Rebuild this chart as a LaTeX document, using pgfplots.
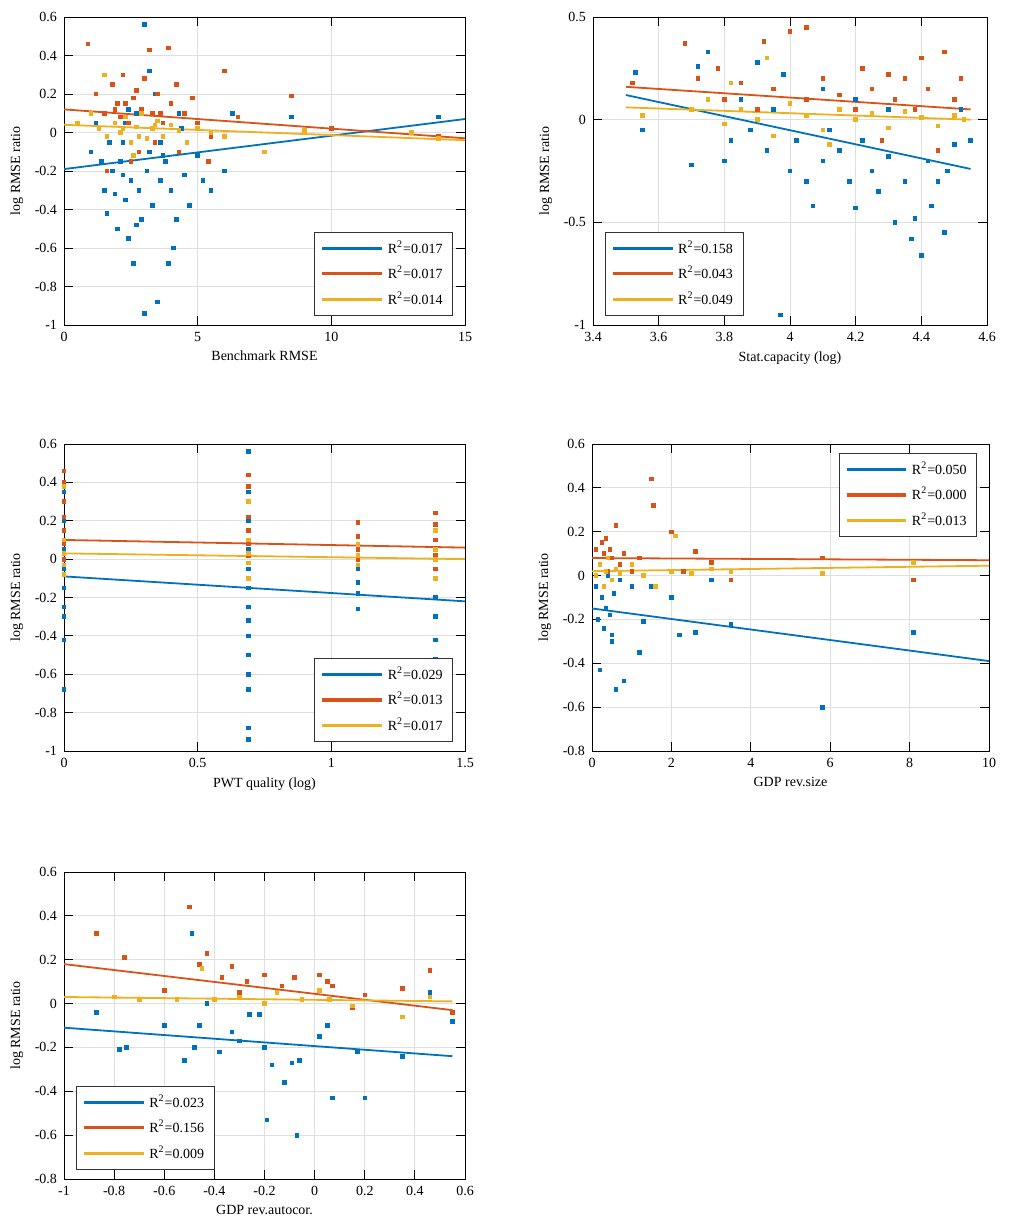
\documentclass[border=0pt]{standalone}
\usepackage{pgfplots}
\pgfplotsset{compat=1.18}
\usepackage{fontspec}
\setmainfont{Liberation Serif}
\definecolor{cb}{RGB}{0,114,189}
\definecolor{co}{RGB}{217,83,25}
\definecolor{cy}{RGB}{237,177,32}
\pgfplotsset{
  every axis/.append style={
    scale only axis, anchor=north west, grid=major, grid style={gray!25},
    tick align=inside, tick style={black, thin}, axis line style={thin},
    font=\fontsize{7}{8}\selectfont,
    /pgf/number format/assume math mode=true,
    ylabel={log RMSE ratio}, ylabel style={yshift=-1pt},
    xlabel style={yshift=2pt},
    legend style={font=\fontsize{7}{8}\selectfont, draw=black!80, thin, row sep=1pt},
    legend cell align=left,
    legend image code/.code={\draw[#1, line width=1.6pt] (0cm,0cm) -- (1.05cm,0cm);},
  },
  pb/.style={only marks, mark=square*, mark size=0.9pt, color=cb, forget plot},
  po/.style={only marks, mark=square*, mark size=0.9pt, color=co, forget plot},
  py/.style={only marks, mark=square*, mark size=0.9pt, color=cy, forget plot},
  lb/.style={color=cb, line width=0.9pt},
  lo/.style={color=co, line width=0.9pt},
  ly/.style={color=cy, line width=0.9pt},
}
\begin{document}
\begin{tikzpicture}
\path (0pt,0pt) rectangle (504pt,-612.5pt);
% Panel 1
\begin{axis}[at={(32pt,-8.5pt)}, width=200.5pt, height=154pt,
  xmin=0, xmax=15, ymin=-1, ymax=0.6, xtick={0,5,10,15}, ytick={-1,-0.8,...,0.6},
  xlabel={Benchmark RMSE}, legend pos=south east]
\addplot[pb] coordinates {(1,-0.1)(1.2,0.05)(1.5,-0.3)(1.6,-0.42)(1.8,-0.2)(2,-0.5)(2.1,-0.15)(2.2,-0.05)(2.3,-0.35)(2.4,-0.55)(2.5,-0.25)(2.6,-0.68)(2.7,0.1)(2.8,-0.3)(2.9,-0.45)(3,-0.94)(3,0.56)(3.1,-0.2)(3.2,-0.1)(3.3,-0.38)(3.4,0.2)(3.5,-0.88)(3.6,-0.25)(3.8,-0.15)(3.9,-0.68)(4,-0.3)(4.1,-0.6)(4.2,-0.45)(4.3,0.1)(4.5,-0.22)(4.7,-0.38)(5,-0.12)(5.2,-0.25)(5.5,-0.3)(6,-0.2)(6.3,0.1)(8.5,0.08)(14,0.08)(2.4,0.12)(1.9,-0.32)(2.7,-0.48)(3.6,-0.05)(4.4,0.02)(2.2,-0.22)(3.2,0.32)(1.4,-0.15)(2.8,-0.02)(3.7,-0.12)(2.3,0.05)(1.7,-0.05)};
\addplot[po] coordinates {(0.9,0.46)(1.2,0.2)(1.5,0.1)(1.8,0.25)(2,0.15)(2.2,0.3)(2.4,0.05)(2.6,0.18)(2.8,-0.1)(3,0.28)(3.2,0.43)(3.3,0.1)(3.5,0.2)(3.7,0.05)(3.9,0.44)(4,0.15)(4.2,0.25)(4.5,0.1)(4.8,0.18)(5,0.05)(5.5,-0.02)(6,0.32)(6.5,0.08)(8.5,0.19)(10,0.02)(14,-0.02)(2.1,0.08)(2.9,0.12)(3.4,-0.05)(1.6,-0.2)(2.5,-0.15)(4.3,-0.1)(5.4,-0.15)(1.9,0.12)(2.7,0.22)(3.6,0.1)(2.3,0.15)};
\addplot[py] coordinates {(0.5,0.05)(1,0.1)(1.3,0.02)(1.6,-0.02)(1.9,0.05)(2.1,0)(2.3,0.08)(2.5,-0.05)(2.7,0.03)(2.9,0.1)(3.1,-0.03)(3.3,0.02)(3.5,0.06)(3.7,-0.02)(4,0.04)(4.3,0.01)(4.6,-0.05)(5,0.02)(5.5,0)(6,-0.02)(7.5,-0.1)(9,0.01)(13,0)(14,-0.03)(1.5,0.3)(2.6,-0.12)(2.2,0.02)(2.8,-0.02)(3.4,0.04)};
\addplot[lb] coordinates {(0,-0.19)(15,0.07)};
\addplot[lo] coordinates {(0,0.12)(15,-0.03)};
\addplot[ly] coordinates {(0,0.04)(15,-0.04)};
\legend{R\textsuperscript{2}=0.017,R\textsuperscript{2}=0.017,R\textsuperscript{2}=0.014}
\end{axis}
% Panel 2
\begin{axis}[at={(296.5pt,-8.5pt)}, width=197pt, height=154pt,
  xmin=3.4, xmax=4.6, ymin=-1, ymax=0.5, xtick={3.4,3.6,...,4.61}, ytick={-1,-0.5,0,0.5},
  xlabel={Stat.capacity (log)}, legend pos=south west]
\addplot[pb] coordinates {(3.53,0.23)(3.55,-0.05)(3.7,-0.22)(3.72,0.26)(3.75,0.33)(3.8,-0.2)(3.82,-0.1)(3.85,0.1)(3.88,-0.05)(3.9,0.28)(3.93,-0.15)(3.95,0.05)(3.97,-0.95)(3.98,0.22)(4,-0.25)(4.02,-0.1)(4.05,-0.3)(4.07,-0.42)(4.1,-0.2)(4.12,-0.05)(4.15,-0.15)(4.18,-0.3)(4.2,-0.43)(4.22,-0.1)(4.25,-0.25)(4.27,-0.35)(4.3,-0.18)(4.32,-0.5)(4.35,-0.3)(4.37,-0.58)(4.38,-0.48)(4.4,-0.66)(4.42,-0.2)(4.43,-0.42)(4.45,-0.3)(4.47,-0.55)(4.48,-0.25)(4.5,-0.12)(4.52,0.05)(4.55,-0.1)(4.2,0.1)(4.3,0.05)(4.1,0.15)};
\addplot[po] coordinates {(3.52,0.18)(3.68,0.37)(3.72,0.2)(3.78,0.25)(3.8,0.1)(3.85,0.18)(3.9,0.05)(3.92,0.38)(3.95,0.15)(4,0.43)(4.05,0.45)(4.05,0.1)(4.1,0.2)(4.15,0.12)(4.2,0.05)(4.22,0.25)(4.25,0.15)(4.3,0.22)(4.32,0.1)(4.35,0.2)(4.38,0.05)(4.4,0.3)(4.42,0.15)(4.45,-0.15)(4.47,0.33)(4.5,0.1)(4.52,0.2)(4.1,-0.05)(4.28,-0.1)};
\addplot[py] coordinates {(3.55,0.02)(3.7,0.05)(3.75,0.1)(3.8,-0.02)(3.85,0.05)(3.9,0)(3.93,0.3)(3.95,-0.08)(4,0.08)(4.05,0.02)(4.1,-0.05)(4.15,0.05)(4.2,0)(4.25,0.03)(4.3,-0.04)(4.35,0.04)(4.4,0.01)(4.45,-0.03)(4.5,0.02)(4.53,0)(3.82,0.18)(4.12,-0.12)};
\addplot[lb] coordinates {(3.5,0.12)(4.55,-0.24)};
\addplot[lo] coordinates {(3.5,0.16)(4.55,0.05)};
\addplot[ly] coordinates {(3.5,0.06)(4.55,0.0)};
\legend{R\textsuperscript{2}=0.158,R\textsuperscript{2}=0.043,R\textsuperscript{2}=0.049}
\end{axis}
% Panel 3
\begin{axis}[at={(32pt,-222pt)}, width=200.5pt, height=153.5pt,
  xmin=0, xmax=1.5, ymin=-1, ymax=0.6, xtick={0,0.5,1,1.5}, ytick={-1,-0.8,...,0.6},
  xlabel={PWT quality (log)}, legend pos=south east]
\addplot[pb] coordinates {(0,0.35)(0,0.2)(0,0.05)(0,-0.05)(0,-0.15)(0,-0.25)(0,-0.3)(0,-0.42)(0,-0.68)(0.69,0.56)(0.69,0.35)(0.69,0.2)(0.69,0.05)(0.69,-0.05)(0.69,-0.15)(0.69,-0.25)(0.69,-0.32)(0.69,-0.4)(0.69,-0.5)(0.69,-0.6)(0.69,-0.68)(0.69,-0.88)(0.69,-0.94)(1.1,0.05)(1.1,-0.05)(1.1,-0.12)(1.1,-0.18)(1.1,-0.26)(1.39,0.05)(1.39,-0.1)(1.39,-0.2)(1.39,-0.3)(1.39,-0.42)(1.39,-0.52)};
\addplot[po] coordinates {(0,0.46)(0,0.4)(0,0.3)(0,0.22)(0,0.15)(0,0.08)(0,0)(0.69,0.44)(0.69,0.38)(0.69,0.3)(0.69,0.22)(0.69,0.15)(0.69,0.08)(0.69,0.02)(1.1,0.19)(1.1,0.12)(1.1,0.05)(1.1,0)(1.39,0.24)(1.39,0.18)(1.39,0.1)(1.39,0.02)(1.39,-0.05)};
\addplot[py] coordinates {(0,0.38)(0,0.1)(0,0.03)(0,-0.03)(0,-0.08)(0.69,0.3)(0.69,0.1)(0.69,0.03)(0.69,-0.02)(0.69,-0.1)(1.1,0.08)(1.1,0.02)(1.1,-0.03)(1.39,0.15)(1.39,0.05)(1.39,0)(1.39,-0.1)};
\addplot[lb] coordinates {(0,-0.09)(1.5,-0.22)};
\addplot[lo] coordinates {(0,0.1)(1.5,0.06)};
\addplot[ly] coordinates {(0,0.03)(1.5,0.0)};
\legend{R\textsuperscript{2}=0.029,R\textsuperscript{2}=0.013,R\textsuperscript{2}=0.017}
\end{axis}
% Panel 4
\begin{axis}[at={(296pt,-222pt)}, width=198.5pt, height=153.5pt,
  xmin=0, xmax=10, ymin=-0.8, ymax=0.6, xtick={0,2,...,10}, ytick={-0.8,-0.6,...,0.6},
  xlabel={GDP rev.size}, legend pos=north east]
\addplot[pb] coordinates {(0.1,-0.05)(0.15,-0.2)(0.2,-0.43)(0.25,-0.1)(0.3,-0.24)(0.35,-0.15)(0.4,0)(0.45,-0.18)(0.5,-0.27)(0.5,-0.3)(0.55,-0.08)(0.6,-0.52)(0.7,-0.02)(0.8,-0.48)(1,-0.05)(1.2,-0.35)(1.3,-0.21)(1.5,-0.05)(2,-0.1)(2.2,-0.27)(2.6,-0.26)(3,-0.02)(3.5,-0.22)(5.8,-0.6)(8.1,-0.26)};
\addplot[po] coordinates {(0.1,0.12)(0.2,0.05)(0.25,0.15)(0.3,0.1)(0.35,0.17)(0.4,0.02)(0.45,0.12)(0.5,0.08)(0.6,0.23)(0.7,0.05)(0.8,0.1)(1,0.02)(1.2,0.08)(1.5,0.44)(1.55,0.32)(2,0.2)(2.3,0.02)(2.6,0.11)(3,0.06)(3.5,-0.02)(5.8,0.08)(8.1,-0.02)};
\addplot[py] coordinates {(0.1,0)(0.2,0.05)(0.3,-0.05)(0.35,0.02)(0.4,0.08)(0.5,-0.02)(0.6,0.03)(0.7,0.01)(1,0.05)(1.3,0)(1.6,-0.05)(2,0.02)(2.1,0.18)(2.5,0.01)(3,0.03)(3.5,0.02)(5.8,0.01)(8.1,0.06)};
\addplot[lb] coordinates {(0,-0.15)(10,-0.39)};
\addplot[lo] coordinates {(0,0.08)(10,0.07)};
\addplot[ly] coordinates {(0,0.02)(10,0.045)};
\legend{R\textsuperscript{2}=0.050,R\textsuperscript{2}=0.000,R\textsuperscript{2}=0.013}
\end{axis}
% Panel 5
\begin{axis}[at={(32pt,-436pt)}, width=200.5pt, height=153.5pt,
  xmin=-1, xmax=0.6, ymin=-0.8, ymax=0.6, xtick={-1,-0.8,...,0.61}, ytick={-0.8,-0.6,...,0.6},
  xlabel={GDP rev.autocor.}, legend pos=south west]
\addplot[pb] coordinates {(-0.87,-0.04)(-0.78,-0.21)(-0.75,-0.2)(-0.6,-0.1)(-0.52,-0.26)(-0.49,0.32)(-0.48,-0.2)(-0.46,-0.1)(-0.43,0)(-0.38,-0.22)(-0.33,-0.13)(-0.3,-0.17)(-0.26,-0.05)(-0.22,-0.05)(-0.2,-0.2)(-0.19,-0.53)(-0.17,-0.28)(-0.12,-0.36)(-0.09,-0.27)(-0.07,-0.6)(-0.06,-0.26)(0.02,-0.15)(0.05,-0.1)(0.07,-0.43)(0.17,-0.22)(0.2,-0.43)(0.35,-0.24)(0.46,0.05)(0.55,-0.08)};
\addplot[po] coordinates {(-0.87,0.32)(-0.76,0.21)(-0.6,0.06)(-0.5,0.44)(-0.46,0.18)(-0.43,0.23)(-0.37,0.12)(-0.33,0.17)(-0.3,0.05)(-0.27,0.1)(-0.2,0.13)(-0.13,0.08)(-0.08,0.12)(-0.05,0.02)(0.02,0.13)(0.05,0.1)(0.07,0.08)(0.15,-0.02)(0.2,0.04)(0.35,0.07)(0.46,0.15)(0.55,-0.04)};
\addplot[py] coordinates {(-0.8,0.03)(-0.7,0.02)(-0.55,0.02)(-0.45,0.16)(-0.4,0.02)(-0.3,0.03)(-0.2,0)(-0.15,0.05)(-0.05,0.02)(0.02,0.06)(0.06,0.02)(0.15,-0.01)(0.35,-0.06)(0.46,0.03)};
\addplot[lb] coordinates {(-1,-0.11)(0.55,-0.24)};
\addplot[lo] coordinates {(-1,0.18)(0.55,-0.03)};
\addplot[ly] coordinates {(-1,0.03)(0.55,0.01)};
\legend{R\textsuperscript{2}=0.023,R\textsuperscript{2}=0.156,R\textsuperscript{2}=0.009}
\end{axis}
\end{tikzpicture}
\end{document}
